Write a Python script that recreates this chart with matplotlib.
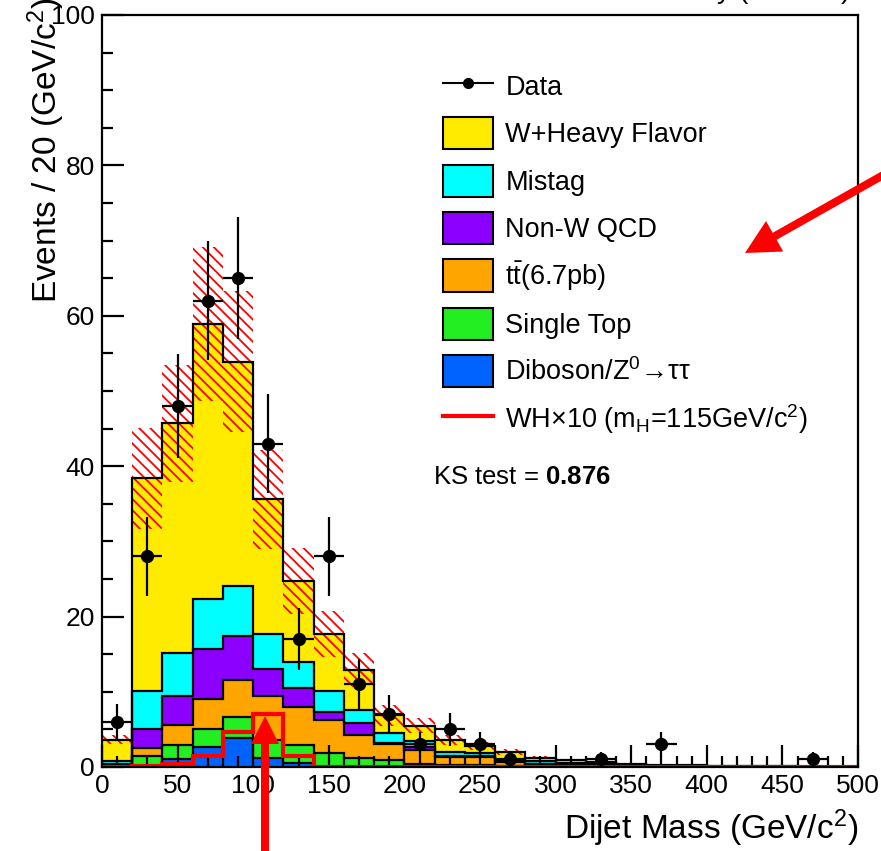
import numpy as np
import matplotlib
matplotlib.use("Agg")
import matplotlib.pyplot as plt
from matplotlib.patches import FancyArrow
from matplotlib.lines import Line2D
from matplotlib.patches import Patch
from matplotlib.transforms import IdentityTransform

plt.rcParams['font.family'] = ['Liberation Sans', 'DejaVu Sans']
plt.rcParams['mathtext.fontset'] = 'custom'
plt.rcParams['mathtext.rm'] = 'Liberation Sans'
plt.rcParams['mathtext.it'] = 'Liberation Sans:italic'
plt.rcParams['mathtext.bf'] = 'Liberation Sans:bold'
plt.rcParams['hatch.linewidth'] = 1.3
plt.rcParams['hatch.color'] = 'red'

# 20 GeV bins, 0-500
edges = np.arange(0, 520, 20)
centers = edges[:-1] + 10

# per-process contributions (stacked bottom -> top)
diboson = [0.1, 0.1, 1.0, 2.6, 3.8, 1.2, 0.5, 0.05, 0.05, 0, 0, 0, 0, 0, 0, 0, 0, 0, 0, 0, 0, 0, 0, 0, 0]
single_top = [0.1, 1.3, 1.9, 2.4, 2.8, 2.4, 2.4, 1.75, 1.1, 0.9, 0.4, 0.3, 0.3, 0.1, 0.05, 0.05, 0.02, 0, 0, 0, 0, 0, 0, 0, 0]
ttbar = [0.1, 1.1, 2.7, 4.0, 5.0, 5.9, 5.1, 4.45, 3.1, 2.1, 1.9, 1.0, 1.0, 0.6, 0.35, 0.25, 0.18, 0.1, 0.08, 0.05, 0.03, 0.02, 0.02, 0.01, 0.01]
nonw_qcd = [0.1, 2.5, 3.9, 6.7, 5.8, 3.5, 2.5, 1.05, 1.65, 0.2, 0.4, 0.1, 0.2, 0.05, 0.05, 0.05, 0.05, 0.02, 0.02, 0.01, 0, 0, 0, 0, 0]
mistag = [0.4, 5.1, 5.7, 6.6, 6.7, 4.7, 3.5, 2.8, 1.7, 1.3, 0.7, 0.6, 0.4, 0.15, 0.35, 0.15, 0.1, 0.08, 0.05, 0.04, 0.02, 0.02, 0.01, 0.01, 0.01]
w_hf = [2.8, 28.3, 30.5, 36.6, 29.8, 17.9, 10.7, 7.6, 5.3, 2.4, 2.1, 1.6, 0.9, 1.1, 0.4, 0.4, 0.35, 0.2, 0.15, 0.1, 0.1, 0.08, 0.07, 0.04, 0.03]
bkg_unc = [0.6, 6.7, 7.8, 10.2, 9.4, 6.6, 4.4, 3.1, 2.2, 1.4, 1.0, 0.7, 0.5, 0.35, 0.2, 0.15, 0.12, 0.07, 0.05, 0.04, 0.03, 0.02, 0.02, 0.01, 0.01]

wh_x10 = [0.05, 0.1, 0.4, 1.5, 4.7, 7.0, 1.5, 0.05, 0.05, 0.05, 0.05, 0.05, 0.05, 0.05, 0.05, 0.05, 0.05, 0.05, 0.05, 0.05, 0.05, 0.05, 0.05, 0.05, 0.05]

data = [6, 28, 48, 62, 65, 43, 17, 28, 11, 7, 3, 5, 3, 1, 0, 0, 1, 0, 3, 0, 0, 0, 0, 1, 0]
data_err = [2.4, 5.3, 6.9, 7.9, 8.1, 6.6, 4.1, 5.3, 3.3, 2.6, 1.7, 2.2, 1.7, 1.0, 0, 0, 1.0, 0, 1.7, 0, 0, 0, 0, 1.0, 0]

layers = [diboson, single_top, ttbar, nonw_qcd, mistag, w_hf]
colors = ['#0062FF', '#22EE22', '#FFA500', '#8C00FF', '#00FFFF', '#FFEB00']
labels = ['Diboson/Z$^{0}$→ττ', 'Single Top', 't$\\bar{\\rm t}$(6.7pb)',
          'Non-W QCD', 'Mistag', 'W+Heavy Flavor']

fig = plt.figure(figsize=(8.81, 8.51), dpi=100, facecolor='white')
ax = fig.add_axes([102/881, 84/851, 756/881, 752/851])

base = np.zeros(len(centers))
tops = []
for vals, col in zip(layers, colors):
    top = base + np.array(vals)
    ax.stairs(top, edges, baseline=base, fill=True, color=col, lw=0, zorder=1)
    tops.append(top)
    base = top
total = base

# uncertainty band
unc = np.array(bkg_unc)
ax.stairs(total + unc, edges, baseline=total - unc, fill=True, facecolor='none',
          edgecolor='red', hatch='\\\\\\', lw=0, zorder=1.2)

for top in tops:
    ax.stairs(top, edges, baseline=None, color='black', lw=1.6, zorder=1.3)

# signal
ax.stairs(wh_x10, edges, baseline=None, color='red', lw=3, zorder=2)

# data
d = np.array(data)
de = np.array(data_err)
m = d > 0
ax.errorbar(centers[m], d[m], xerr=10, yerr=de[m], fmt='o', color='black', ms=8.5,
            elinewidth=1.6, capsize=0, zorder=3)

ax.set_xlim(0, 500)
ax.set_ylim(0, 100)
ax.set_xticks(np.arange(0, 501, 50))
ax.set_xticks(np.arange(0, 501, 10), minor=True)
ax.set_yticks(np.arange(0, 101, 20))
ax.set_yticks(np.arange(0, 101, 5), minor=True)
ax.tick_params(which='major', direction='in', length=16, width=1.6, labelsize=19)
ax.tick_params(which='minor', direction='in', length=8, width=1.6)
ax.tick_params(axis='x', pad=5)
ax.tick_params(axis='y', pad=5)
for s in ax.spines.values():
    s.set_linewidth(1.6)

fig.text(858/881, 1 - 828/851, 'Dijet Mass (GeV/c$^{2}$)', ha='right', va='center', fontsize=24)
fig.text(46/881, 1 + 2/851, 'Events / 20 (GeV/c$^{2}$)', rotation=90, ha='center', va='top', fontsize=24)
fig.text(850/881, 1 + 1/851, 'CDF Run II Preliminary (2.7 fb$^{-1}$)', ha='right', va='baseline', fontsize=20)

# legend
handles = [Line2D([], [], color='black', marker='o', ms=7, lw=1.5)]
leg_labels = ['Data']
for col, lab in zip(colors[::-1], labels[::-1]):
    handles.append(Patch(facecolor=col, edgecolor='black', lw=1.5))
    leg_labels.append(lab)
handles.append(Line2D([], [], color='red', lw=3))
leg_labels.append('WH$\\times$10 (m$_{\\rm H}$=115GeV/c$^{2}$)')
ax.legend(handles, leg_labels, loc='upper left', bbox_to_anchor=(443/881, 1 - 70/851),
          bbox_transform=fig.transFigure, frameon=False, fontsize=19.5, borderpad=0,
          borderaxespad=0, handlelength=1.85, handleheight=1.45, labelspacing=0.56,
          handletextpad=0.45)

fig.text(433/881, 1 - 477/851, 'KS test = $\\mathbf{0.876}$', ha='left', va='center', fontsize=18.5)

# red pointer arrows
tr = IdentityTransform()
fig.add_artist(FancyArrow(900, 685.4, -155, -87.4, width=8, head_width=35, head_length=34,
                          length_includes_head=True, color='red', lw=0, transform=tr))
fig.add_artist(FancyArrow(265, -5, 0, 140, width=8, head_width=28, head_length=28,
                          length_includes_head=True, color='red', lw=0, transform=tr))

fig.savefig('out.png', dpi=100)
